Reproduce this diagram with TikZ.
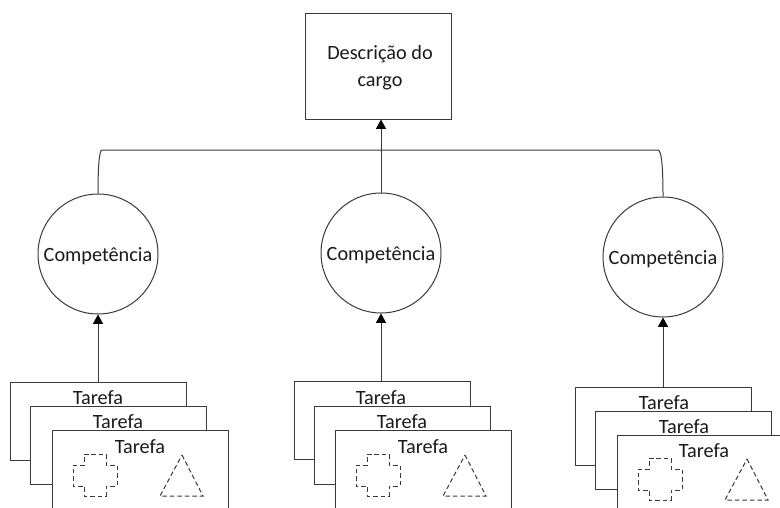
\documentclass[tikz,border=0pt]{standalone}
\usepackage{fontspec}
\setmainfont{Carlito}
\usetikzlibrary{arrows.meta}
\definecolor{ln}{HTML}{3A3A3A}
\definecolor{tx}{HTML}{1A1A1A}
\newcommand{\lowertext}[2]{\raisebox{#1}[8pt][3pt]{#2}}
\tikzset{
  x=0.75pt,y=-0.75pt,
  base/.style={draw=ln,line width=0.75pt,fill=white,text=tx,inner sep=0pt,font=\fontsize{15.2pt}{20.2pt}\selectfont},
  cargo/.style={base,rectangle,minimum width=109.5pt,minimum height=79.5pt,align=center},
  comp/.style={base,circle,minimum size=90pt},
  tarefa/.style={base,rectangle,minimum width=132pt,minimum height=58.5pt,anchor=north west},
  tarefabig/.style={tarefa,minimum height=90pt},
  tlabel/.style={text=tx,inner sep=0pt,font=\fontsize{15.2pt}{18pt}\selectfont},
  conn/.style={draw=ln,line width=0.75pt},
  arrow/.style={conn,-{Triangle[length=7pt,width=7.5pt,color=black]}},
  dashshape/.style={draw=ln,line width=0.75pt,dash pattern=on 3.4pt off 2.2pt,line join=miter}
}
\begin{document}
\begin{tikzpicture}
\useasboundingbox (0,0) rectangle (780,507);
\clip (0,0) rectangle (780,507);
\fill[white] (0,0) rectangle (780,507);
% top box
\node[cargo] (cargo) at (378,66) {\hspace*{3pt}\lowertext{-2.6pt}{Descrição do}\\\hspace*{3pt}\lowertext{-2.6pt}{cargo}};
% competences
\node[comp] (c1) at (98,254) {\lowertext{-2.8pt}{Competência}};
\node[comp] (c2) at (381,253) {\lowertext{-2.8pt}{Competência}};
\node[comp] (c3) at (663,257) {\lowertext{-2.8pt}{Competência}};
% stack 1
\node[tarefa] (a1) at (10,382) {};
\node[tlabel] (a1t) at (98,398) {Tarefa};
\node[tarefa] (a2) at (30,406) {};
\node[tlabel] (a2t) at (118,422) {Tarefa};
\node[tarefabig] (a3) at (52,430) {};
\node[tlabel] (a3t) at (140,447) {Tarefa};
% stack 2
\node[tarefa] (b1) at (294,381) {};
\node[tlabel] (b1t) at (381,398) {Tarefa};
\node[tarefa] (b2) at (314,406) {};
\node[tlabel] (b2t) at (402,422) {Tarefa};
\node[tarefabig] (b3) at (335,430) {};
\node[tlabel] (b3t) at (423,447) {Tarefa};
% stack 3
\node[tarefa] (d1) at (575,387) {};
\node[tlabel] (d1t) at (664,403) {Tarefa};
\node[tarefa] (d2) at (595,411) {};
\node[tlabel] (d2t) at (684,427) {Tarefa};
\node[tarefabig] (d3) at (617,435) {};
\node[tlabel] (d3t) at (704,451) {Tarefa};
% connectors
\draw[arrow] (c2.north) -- (cargo.south -| c2.north);
\draw[arrow] (a1.north -| c1.south) -- (c1.south);
\draw[arrow] (b1.north -| c2.south) -- (c2.south);
\draw[arrow] (d1.north -| c3.south) -- (c3.south);
\coordinate (busl) at (102,150);
\coordinate (busr) at (658,150);
\draw[conn] (c1.north) .. controls (98,170) and (99,150) .. (busl) -- (busr) .. controls (662,150) and (663,172) .. (c3.north);
% dashed shapes
\foreach \dx/\dy/\n in {0/0/a,283/0/b,565/4/d}{
  \begin{scope}[shift={(\dx*0.75pt,-\dy*0.75pt)}]
    \draw[dashshape] (84,454) -- (106,454) -- (106,465) -- (117,465) -- (117,486) -- (106,486) -- (106,496) -- (84,496) -- (84,486) -- (73,486) -- (73,465) -- (84,465) -- cycle;
    \draw[dashshape] (182,455) -- (203,496) -- (160,496) -- cycle;
  \end{scope}
}
\end{tikzpicture}
\end{document}
